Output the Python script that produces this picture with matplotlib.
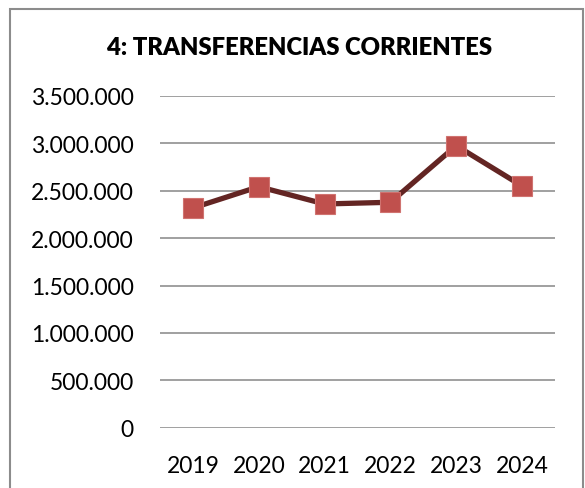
import matplotlib
matplotlib.use("Agg")
import matplotlib.pyplot as plt
from matplotlib.patches import Rectangle
from matplotlib.ticker import FuncFormatter

years = ["2019", "2020", "2021", "2022", "2023", "2024"]
values = [2318000, 2542000, 2360000, 2378000, 2975000, 2550000]
yticks = [0, 500000, 1000000, 1500000, 2000000, 2500000, 3000000, 3500000]
title = "4: TRANSFERENCIAS CORRIENTES"

plt.rcParams['font.family'] = ['Lato', 'DejaVu Sans']

fig = plt.figure(figsize=(5.85, 4.89), dpi=100)
ax = fig.add_axes([160/585, 1-428.7/489, 395/585, (428.7-96.9)/489])

x = list(range(len(years)))
ax.plot(x, values, color="#632523", linewidth=3.8, zorder=3,
        marker="s", markersize=15, markerfacecolor="#C0504D",
        markeredgecolor="#D07370", markeredgewidth=0.8)

ax.set_xlim(-0.5, len(years) - 0.5)
ax.set_ylim(0, 3500000)
ax.set_yticks(yticks)
ax.yaxis.set_major_formatter(FuncFormatter(lambda v, p: f"{int(v):,}".replace(",", ".")))
ax.set_xticks(x)
ax.set_xticklabels(years)
ax.grid(axis="y", color="#A0A0A0", linewidth=1.4)
ax.set_axisbelow(True)
for s in ax.spines.values():
    s.set_visible(False)
ax.tick_params(axis="both", length=0, labelsize=16.5, colors="black")
ax.tick_params(axis="y", pad=19)
ax.tick_params(axis="x", pad=20)

fig.text(300/585, 1-48/489, title, ha="center", va="center",
         fontsize=17.2, fontweight="heavy")

fig.patches.append(Rectangle((10/585, -0.05), 573/585, 1.05 - 10/489,
                             transform=fig.transFigure, fill=False,
                             edgecolor="#8C8C8C", linewidth=1.5))

fig.savefig("out.png", dpi=100)
